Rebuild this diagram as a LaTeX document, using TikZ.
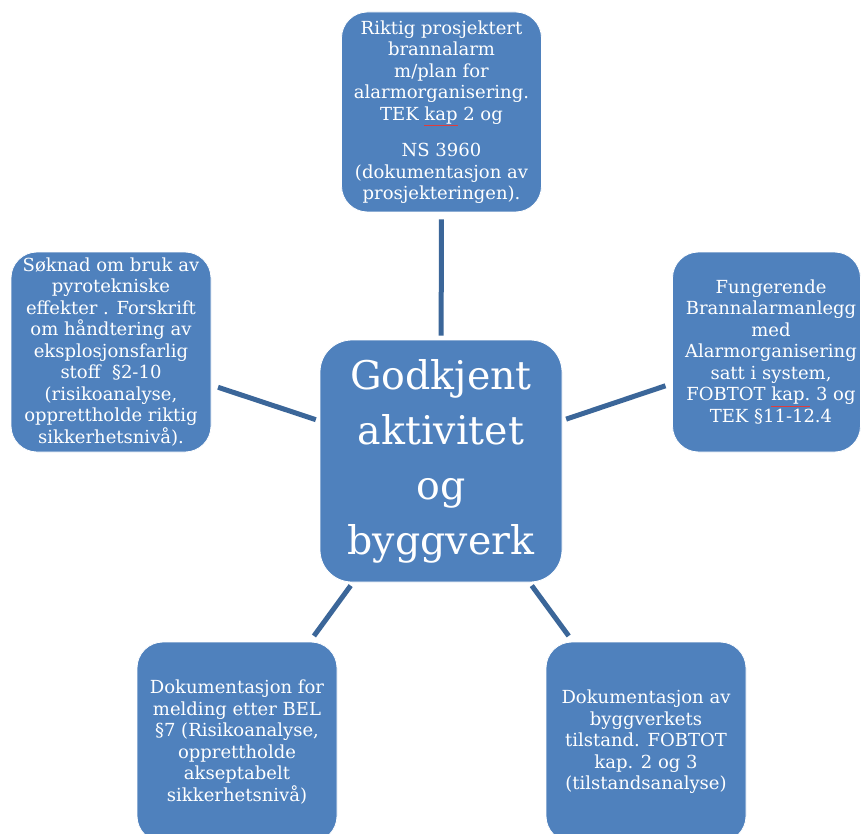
\documentclass[tikz,border=0pt]{standalone}
\usepackage{fontspec}
\setmainfont{DejaVu Serif}
\definecolor{boxblue}{HTML}{4F81BD}
\definecolor{linkblue}{HTML}{3B6699}
\definecolor{spellred}{HTML}{E03C3C}
% word flagged by the spelling checker: thin red line beneath it
\newcommand\spellflag[1]{\textcolor{spellred}{\underline{\textcolor{white}{#1}}}}
\tikzset{
  item/.style={fill=boxblue, draw=white, line width=0.8pt, rounded corners=26pt,
    text=white, align=center, inner sep=0pt, minimum width=200pt, minimum height=200pt,
    font=\fontsize{18}{21.5}\selectfont},
  hub/.style={item, rounded corners=32pt, minimum width=242pt, minimum height=242pt,
    font=\fontsize{39.5}{55}\selectfont},
  link/.style={draw=linkblue, line width=5pt, shorten <=4pt, shorten >=7pt}
}
\begin{document}
\begin{tikzpicture}[x=1pt,y=-1pt]
  \clip (0,0) rectangle (861,834);
  \fill[white] (0,0) rectangle (861,834);

  % central node
  \node[hub] (hub) at (441,461) {Godkjent\\aktivitet\\og\\byggverk};

  % surrounding requirements
  \node[item] (top) at (441.5,112) {Riktig prosjektert\\brannalarm\\m/plan for\\alarmorganisering.\\TEK \spellflag{kap} 2 og\\[15pt]NS 3960\\(dokumentasjon av\\prosjekteringen).};
  \node[item] (left) at (111,352) {Søknad om bruk av\\pyrotekniske\\effekter . Forskrift\\om håndtering av\\eksplosjonsfarlig\\stoff~~§2-10\\(risikoanalyse,\\opprettholde riktig\\sikkerhetsnivå).};
  \node[item, minimum width=188pt] (right) at (766.5,352) {\hspace*{9pt}Fungerende\\\hspace*{9pt}Brannalarmanlegg\\\hspace*{9pt}med\\\hspace*{9pt}Alarmorganisering\\\hspace*{9pt}satt i system,\\\hspace*{9pt}FOBTOT \spellflag{kap.} 3 og\\\hspace*{9pt}TEK §11-12.4};
  \node[item] (bl) at (237,742) {Dokumentasjon for\\melding etter BEL\\§7 (Risikoanalyse,\\opprettholde\\akseptabelt\\sikkerhetsnivå)};
  \node[item] (br) at (646,742) {Dokumentasjon av\\byggverkets\\tilstand. FOBTOT\\kap. 2 og 3\\(tilstandsanalyse)};

  % connectors
  \draw[link] (hub) -- (top);
  \draw[link] (hub) -- (left);
  \draw[link] (hub) -- (right);
  \draw[link] (hub) -- (bl);
  \draw[link] (hub) -- (br);
\end{tikzpicture}
\end{document}
